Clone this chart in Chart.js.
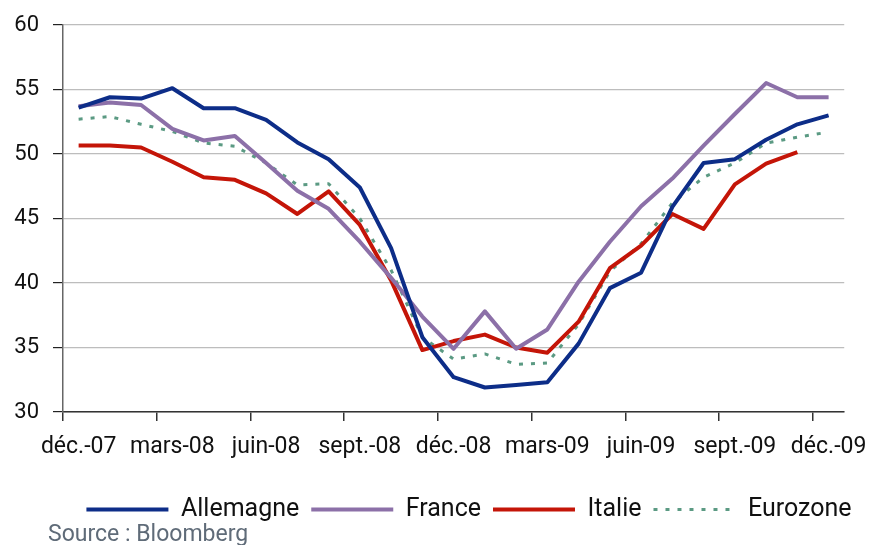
<!DOCTYPE html>
<html>
<head>
<meta charset="utf-8">
<script src="https://cdn.jsdelivr.net/npm/chart.js@4/dist/chart.umd.min.js"></script>
<style>
  html, body { margin: 0; padding: 0; background: #fff; }
  #wrap { position: relative; width: 879px; height: 545px; }
</style>
</head>
<body>
<div id="wrap"><canvas id="chartPmi"></canvas></div>
<script>
/**
 * Data
 */
const months = [
    'déc.-07', 'janv.-08', 'févr.-08', 'mars-08', 'avr.-08', 'mai-08', 'juin-08',
    'juil.-08', 'août-08', 'sept.-08', 'oct.-08', 'nov.-08', 'déc.-08',
    'janv.-09', 'févr.-09', 'mars-09', 'avr.-09', 'mai-09', 'juin-09',
    'juil.-09', 'août-09', 'sept.-09', 'oct.-09', 'nov.-09', 'déc.-09'
];

const allemagne = [53.6, 54.4, 54.3, 55.1, 53.55, 53.55, 52.65, 50.9, 49.6, 47.4, 42.7, 35.8,
    32.7, 31.9, 32.1, 32.3, 35.3, 39.6, 40.8, 45.9, 49.3, 49.6, 51.1, 52.3, 53.0];

const france = [53.7, 54.0, 53.8, 51.95, 51.05, 51.4, 49.3, 47.15, 45.75, 43.2, 40.4, 37.4,
    34.9, 37.8, 34.9, 36.4, 40.1, 43.2, 45.95, 48.1, 50.65, 53.1, 55.5, 54.4, 54.4];

const italie = [50.65, 50.65, 50.5, 49.4, 48.2, 48.0, 46.95, 45.35, 47.1, 44.5, 40.2, 34.8,
    35.5, 36.0, 35.0, 34.6, 37.0, 41.15, 42.9, 45.35, 44.2, 47.65, 49.25, 50.15, null];

const eurozone = [52.7, 52.9, 52.3, 51.75, 50.85, 50.6, 49.3, 47.6, 47.7, 45.0, 41.0, 35.8,
    34.1, 34.5, 33.7, 33.8, 36.8, 40.9, 43.05, 46.2, 48.2, 49.3, 50.85, 51.3, 51.7];

const yTicks = [30, 35, 40, 45, 50, 55, 60];

/**
 * Font
 */
const narrow = "'Liberation Sans Narrow', 'Arial Narrow', Roboto, sans-serif";

/**
 * Source + legend shift
 */
const sourcePlugin = {
    id: 'source',
    afterLayout(chart) {
        const lg = chart.legend;
        if (lg) {
            lg.left += 46;
            lg.right += 46;
        }
    },
    afterDraw(chart) {
        const ctx = chart.ctx;
        ctx.save();
        ctx.font = '23px ' + narrow;
        ctx.fillStyle = '#5f6b78';
        ctx.textBaseline = 'alphabetic';
        ctx.fillText('Source : Bloomberg', 48, 541);
        ctx.restore();
    }
};

/**
 * Chart
 */
new Chart(document.getElementById('chartPmi'), {
    type: 'line',

    data: {
        labels: months,
        datasets: [
            {
                label: 'Allemagne',
                data: allemagne,
                borderColor: '#0d2d88',
                backgroundColor: '#0d2d88',
                borderWidth: 4
            },
            {
                label: 'France',
                data: france,
                borderColor: '#8c70a8',
                backgroundColor: '#8c70a8',
                borderWidth: 4
            },
            {
                label: 'Italie',
                data: italie,
                borderColor: '#c41508',
                backgroundColor: '#c41508',
                borderWidth: 4
            },
            {
                label: 'Eurozone',
                data: eurozone,
                borderColor: '#5b9a83',
                backgroundColor: '#5b9a83',
                borderWidth: 3,
                borderDash: [4, 8]
            }
        ]
    },

    options: {
        responsive: true,
        maintainAspectRatio: false,
        animation: false,
        layout: { padding: { top: 8, right: 33, left: 0, bottom: 13 } },
        elements: {
            point: { radius: 0 },
            line: { tension: 0, borderCapStyle: 'butt', borderJoinStyle: 'round' }
        },

        plugins: {
            tooltip: { enabled: false },
            legend: {
                position: 'bottom',
                labels: {
                    usePointStyle: true,
                    pointStyle: 'line',
                    pointStyleWidth: 82,
                    padding: 12,
                    color: '#111',
                    font: { family: narrow, size: 25 },
                    generateLabels(chart) {
                        const items = Chart.defaults.plugins.legend.labels.generateLabels(chart);
                        items.forEach((item) => {
                            const ds = chart.data.datasets[item.datasetIndex];
                            item.lineDash = ds.borderDash || [];
                            item.lineWidth = ds.borderWidth;
                            item.strokeStyle = ds.borderColor;
                        });
                        return items;
                    }
                }
            }
        },

        scales: {
            x: {
                offset: true,
                afterFit(scale) { scale.height = 73; },
                border: { color: '#333', width: 1.5 },
                grid: {
                    offset: true,
                    drawOnChartArea: false,
                    tickLength: 9,
                    color: (c) => (c.index % 3 === 0 ? '#333' : 'rgba(0,0,0,0)'),
                    lineWidth: 1.5
                },
                ticks: {
                    autoSkip: false,
                    maxRotation: 0,
                    minRotation: 0,
                    padding: 12,
                    color: '#111',
                    font: { family: narrow, size: 23 },
                    callback: (v, i) => (i % 3 === 0 ? months[i] : '')
                }
            },
            y: {
                min: 30,
                max: 60,
                afterFit(scale) { scale.width = 63; },
                afterBuildTicks(scale) { scale.ticks = yTicks.map((v) => ({ value: v })); },
                border: { color: '#666', width: 1.5 },
                grid: {
                    color: '#bdbdbd',
                    lineWidth: 1.2,
                    tickLength: 10,
                    tickColor: '#222'
                },
                ticks: {
                    padding: 14,
                    color: '#111',
                    font: { family: narrow, size: 22, lineHeight: 1 }
                }
            }
        }
    },

    plugins: [sourcePlugin]
});
</script>
</body>
</html>
